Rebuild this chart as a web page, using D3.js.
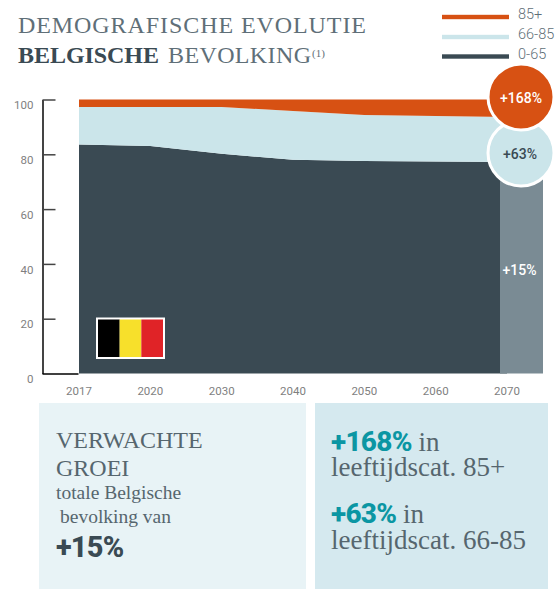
<!DOCTYPE html>
<html><head><meta charset="utf-8">
<script src="https://cdn.jsdelivr.net/npm/d3@7"></script>
<style>html,body{margin:0;padding:0;background:#fff}svg{display:block}text{font-family:Roboto,sans-serif}</style>
</head><body><div id="c"></div>
<script>
const years=[2017,2020,2030,2040,2050,2060,2070];
const young=[83.6,83.0,80.2,78.0,77.6,77.4,77.2];
const mid=[13.7,14.3,17.1,17.8,16.7,16.6,16.4];
const old=[2.7,2.7,2.7,4.2,5.7,6.0,6.4];
const yTicks=[0,20,40,60,80,100];
const seriesNames=["0-65","66-85","85+"];
const seriesColors=["#3a4a53","#cbe5ea","#d75113"];
const growth=["+15%","+63%","+168%"];
const barColor="#7a8b94";
const flagColors=["#000000","#f7e02b","#e02327"];
const W=556,H=589,slab="'Liberation Serif','DejaVu Serif',serif";
const svg=d3.select("#c").append("svg").attr("width",W).attr("height",H);
const x=d3.scalePoint().domain(years).range([79,507]);
const y=d3.scaleLinear().domain([0,100]).range([373.5,99.5]);
const rows=years.map((t,i)=>({t,a:young[i],b:mid[i],c:old[i]}));
const stack=d3.stack().keys(["a","b","c"])(rows);
const area=d3.area().x(d=>x(d.data.t)).y0(d=>y(d[0])).y1(d=>y(d[1]));
svg.selectAll("path.a").data(stack).join("path").attr("class","a").attr("d",area).attr("fill",(d,i)=>seriesColors[i]);
// 2070 bar
const last=years.length-1;
svg.append("rect").attr("x",x(2070)-7).attr("width",43).attr("y",y(young[last])).attr("height",y(0)-y(young[last])).attr("fill",barColor);
// axes
const ax=svg.append("g").attr("transform","translate(42.5,0)")
 .call(d3.axisLeft(y).tickValues(yTicks).tickSize(0).tickPadding(9));
ax.select(".domain").style("stroke","#444").style("stroke-width","2px").style("fill","none");
ax.selectAll(".tick line").attr("x2",d=>d===0?36:13).style("stroke",d=>d===0?"#000":"#444").style("stroke-width","1.5px");
ax.selectAll(".tick text").attr("font-size",11.5).attr("fill","#7f7f7f").attr("dy","0.8em").style("font-family","Roboto");
const bx=svg.append("g").attr("transform","translate(-0.5,375)")
 .call(d3.axisBottom(x).tickSize(0).tickPadding(12));
bx.select(".domain").remove();
bx.selectAll("text").attr("font-size",11.5).attr("fill","#7f7f7f").style("font-family","Roboto");
// flag
const fx=d3.scaleBand().domain(flagColors).range([98,163]);
svg.append("rect").attr("x",96).attr("y",317.5).attr("width",69).attr("height",41.5).attr("fill","#fff");
svg.selectAll("rect.f").data(flagColors).join("rect").attr("class","f").attr("x",d=>fx(d)).attr("width",fx.bandwidth()).attr("y",319.5).attr("height",37.5).attr("fill",d=>d);
// circles
svg.append("circle").attr("cx",521).attr("cy",153).attr("r",33).attr("fill",seriesColors[1]).attr("stroke","#fff").attr("stroke-width",3);
svg.append("circle").attr("cx",521).attr("cy",97).attr("r",33).attr("fill",seriesColors[2]).attr("stroke","#fff").attr("stroke-width",3);
const lab=(t,xx,yy,c)=>svg.append("text").attr("x",xx).attr("y",yy).attr("text-anchor","middle").attr("font-size",14).attr("font-weight",500).attr("fill",c).text(t);
lab(growth[2],521,103,"#fff");lab(growth[1],520,159,"#3a4a53");lab(growth[0],519.5,275,"#fff");
// legend
[2,1,0].forEach((k,i)=>{const yy=[17,37,56.5][i];
 svg.append("rect").attr("x",442).attr("y",yy-2.2).attr("width",67).attr("height",4.4).attr("fill",seriesColors[k]);
 svg.append("text").attr("x",518).attr("y",yy+2).attr("font-size",14.5).attr("font-weight",300).attr("fill","#5f6f78").text(seriesNames[k]);});
// title
const title=(xx,yy,t,len,o)=>{const n=svg.append("text").attr("x",xx).attr("y",yy).attr("font-size",o.s||24).attr("font-weight",o.w||400).attr("fill",o.c||"#5f6f78").style("font-family",slab).text(t);
 if(len)n.attr("textLength",len).attr("lengthAdjust","spacing");};
title(18,33,"DEMOGRAFISCHE EVOLUTIE",348,{});
title(18,63,"BELGISCHE",141,{w:700,c:"#3a4a53"});
title(168,63,"BEVOLKING",143,{});
title(312,57,"(1)",0,{s:11});
// panels
svg.append("rect").attr("x",39).attr("y",403).attr("width",267).attr("height",186).attr("fill","#e8f3f6");
svg.append("rect").attr("x",315).attr("y",403).attr("width",233).attr("height",186).attr("fill","#d5e9ef");
const sl=(xx,yy,t,s,c)=>svg.append("text").attr("x",xx).attr("y",yy).attr("font-size",s).attr("fill",c||"#56666e").style("font-family",slab).text(t);
sl(56,448,"VERWACHTE",24);sl(56,476,"GROEI",24);sl(56,499,"totale Belgische",19.5);sl(60,523,"bevolking van",19.5);
svg.append("text").attr("x",56).attr("y",557).attr("font-size",29).attr("font-weight",800).attr("letter-spacing",-0.8).attr("fill","#3a4a53").text(growth[0]);
const rich=(yy,v)=>{const t=svg.append("text").attr("x",331).attr("y",yy);
 t.append("tspan").attr("font-size",28).attr("font-weight",800).attr("letter-spacing",-0.7).attr("fill","#0b96a3").text(v);
 t.append("tspan").attr("font-size",27).attr("fill","#56666e").style("font-family",slab).text(" in");};
rich(451,growth[2]);sl(331,476,"leeftijdscat. 85+",27);
rich(523,growth[1]);sl(331,549,"leeftijdscat. 66-85",27);
</script></body></html>
